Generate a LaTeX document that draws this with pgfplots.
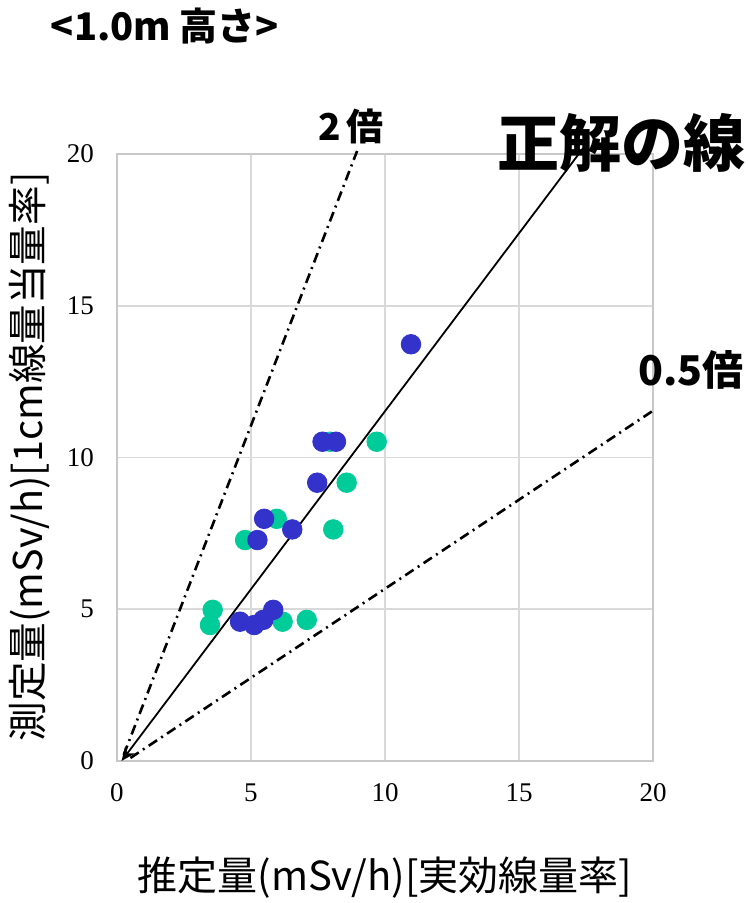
\documentclass[border=0pt]{standalone}
\usepackage{fontspec}
\setmainfont{Liberation Serif}
\newfontfamily\cjk{Noto Sans CJK JP}
\usepackage{pgfplots}
\pgfplotsset{compat=1.18}
\usetikzlibrary{arrows.meta}
\definecolor{blueM}{HTML}{3333CC}
\definecolor{greenM}{HTML}{00CC99}
\definecolor{gridc}{HTML}{D9D9D9}
\definecolor{axc}{HTML}{C8C8C8}
\begin{document}
\begin{tikzpicture}
\path[use as bounding box] (-58.5bp,-71bp) rectangle (315.5bp,380.5bp);
\begin{axis}[
  at={(0,0)}, anchor=south west,
  scale only axis, width=268bp, height=303.5bp,
  xmin=0, xmax=20, ymin=0, ymax=20,
  xtick={0,5,10,15,20}, ytick={0,5,10,15,20},
  grid=major, major grid style={gridc, line width=0.9bp},
  axis line style={axc, line width=1.1bp},
  major tick length=0pt,
  tick label style={font=\fontsize{13.5bp}{15bp}\selectfont},
  /pgf/number format/assume math mode=true,
  xticklabel style={yshift=-8bp},
  yticklabel style={xshift=-8bp},
  clip=false,
]
\addplot[only marks, mark=*, mark size=4.9bp, color=greenM, mark options={draw=none, fill=greenM}] coordinates {
 (9.69,10.52) (7.95,10.52) (8.57,9.17) (5.96,7.98) (4.78,7.28) (8.07,7.63)
 (3.57,4.98) (3.47,4.48) (6.18,4.59) (7.08,4.65)
};
\addplot[only marks, mark=*, mark size=4.9bp, color=blueM, mark options={draw=none, fill=blueM}] coordinates {
 (10.97,13.73) (7.67,10.52) (8.17,10.52) (7.47,9.17) (5.49,7.98) (6.54,7.63)
 (5.24,7.28) (4.59,4.59) (5.12,4.48) (5.46,4.65) (5.83,4.98)
};
\addplot[black, line width=1.3bp, dash pattern=on 5bp off 2.5bp on 1bp off 2.5bp] coordinates {(0.25,0.2) (8.96,20.1)};
\addplot[black, line width=1.3bp, dash pattern=on 5bp off 2.5bp on 1bp off 2.5bp] coordinates {(0.5,0.1) (20.1,11.6)};
\addplot[black, line width=0.9bp, -{Stealth[length=7bp,width=6bp]}] coordinates {(17.4,20.2) (0.17,0)};
\end{axis}
\node[font=\cjk\bfseries\fontsize{19bp}{21bp}\selectfont] at (24bp,367.5bp) {<1.0m 高さ>};
\node[font=\cjk\bfseries\fontsize{31bp}{34bp}\selectfont] at (252bp,309bp) {正解の線};
\node[font=\cjk\bfseries\fontsize{18.5bp}{20bp}\selectfont] at (117bp,317.5bp) {2\,倍};
\node[font=\cjk\bfseries\fontsize{20.5bp}{22bp}\selectfont] at (287bp,195.5bp) {0.5倍};
\node[font=\cjk\fontsize{20bp}{22bp}\selectfont] at (134bp,-58.5bp) {推定量(mSv/h)[実効線量率]};
\node[font=\cjk\fontsize{19.8bp}{22bp}\selectfont, rotate=90] at (-43.5bp,152bp) {測定量(mSv/h)[1cm線量当量率]};
\end{tikzpicture}
\end{document}
